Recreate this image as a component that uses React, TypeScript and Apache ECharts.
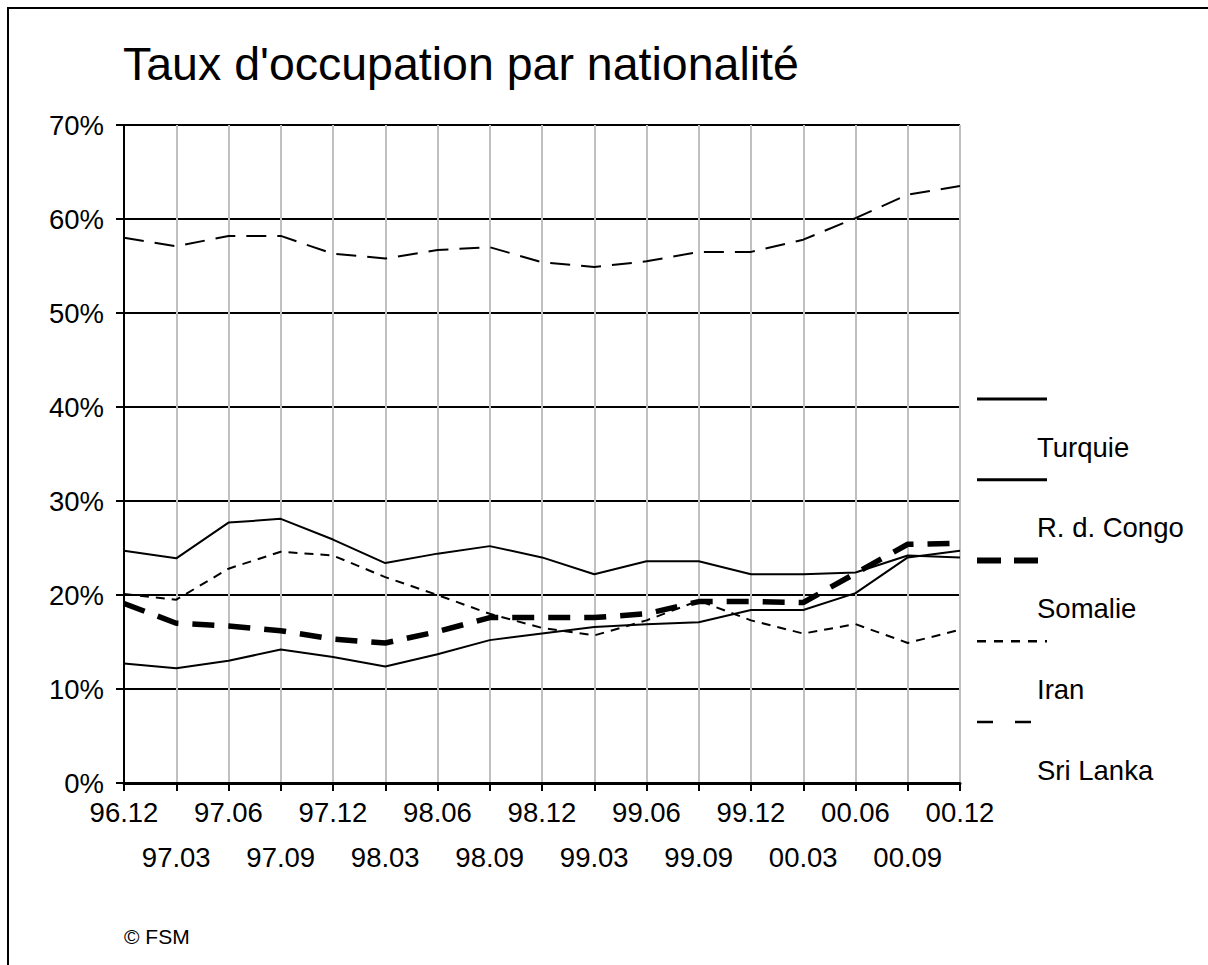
import React, { useEffect, useRef } from "react";
import * as echarts from "echarts";

const categories = ["96.12", "97.03", "97.06", "97.09", "97.12", "98.03", "98.06", "98.09", "98.12", "99.03", "99.06", "99.09", "99.12", "00.03", "00.06", "00.09", "00.12"];
const yTicks = [0, 10, 20, 30, 40, 50, 60, 70];
const turquie = [24.7, 23.9, 27.7, 28.1, 25.9, 23.4, 24.4, 25.2, 24.0, 22.2, 23.6, 23.6, 22.2, 22.2, 22.4, 24.2, 24.0];
const congo = [12.7, 12.2, 13.0, 14.2, 13.4, 12.4, 13.7, 15.2, 15.9, 16.6, 16.9, 17.1, 18.4, 18.4, 20.2, 24.0, 24.7];
const somalie = [19.1, 17.0, 16.7, 16.2, 15.3, 14.9, 16.1, 17.6, 17.6, 17.6, 18.0, 19.3, 19.3, 19.2, 22.3, 25.4, 25.5];
const iran = [20.1, 19.5, 22.8, 24.6, 24.2, 21.9, 20.0, 18.0, 16.5, 15.7, 17.3, 19.4, 17.3, 15.9, 16.9, 14.9, 16.3];
const sriLanka = [58.0, 57.1, 58.2, 58.2, 56.3, 55.8, 56.7, 57.0, 55.4, 54.9, 55.5, 56.5, 56.5, 57.8, 60.1, 62.6, 63.5];
const seriesNames = ["Turquie", "R. d. Congo", "Somalie", "Iran", "Sri Lanka"];
const seriesData = [turquie, congo, somalie, iran, sriLanka];

const FONT = "'Liberation Sans', Arial, sans-serif";

const lineStyles: any[] = [
  { width: 2, type: "solid" },
  { width: 2, type: "solid" },
  { width: 5.5, type: [22, 14] },
  { width: 2, type: [9, 7] },
  { width: 2, type: [20, 11] },
];
const legendStyles: any[] = [
  { lineWidth: 3, lineDash: null },
  { lineWidth: 3, lineDash: null },
  { lineWidth: 6, lineDash: [24, 13] },
  { lineWidth: 2.5, lineDash: [9, 8] },
  { lineWidth: 2.5, lineDash: [16, 22] },
];

export default function App() {
  const ref = useRef<HTMLDivElement>(null);
  useEffect(() => {
    document.body.style.margin = "0";
    document.body.style.overflow = "hidden";
    if (!ref.current) return;
    const chart = echarts.init(ref.current, null, { renderer: "svg" });
    const W = 1208;
    const H = 965;
    const legendGraphics: any[] = [];
    seriesNames.forEach((name, i) => {
      const sy = 399 + i * 80.75;
      const ty = 447 + i * 80.75;
      legendGraphics.push({
        type: "line",
        shape: { x1: 977, y1: sy, x2: 1047, y2: sy },
        style: {
          stroke: "#000",
          lineWidth: legendStyles[i].lineWidth,
          lineDash: legendStyles[i].lineDash || undefined,
        },
      });
      legendGraphics.push({
        type: "text",
        x: 1037,
        y: ty,
        style: {
          text: name,
          fontSize: 27.5,
          fontFamily: FONT,
          fill: "#000",
          align: "left",
          verticalAlign: "middle",
        },
      });
    });
    chart.setOption({
      animation: false,
      backgroundColor: "#fff",
      grid: { left: 124, right: 248, top: 125, bottom: 182, containLabel: false },
      xAxis: {
        type: "category",
        boundaryGap: false,
        data: categories,
        axisLine: { show: true, lineStyle: { color: "#000", width: 3 } },
        axisTick: { show: true, length: 8, interval: 0, lineStyle: { color: "#000", width: 2 } },
        axisLabel: {
          interval: 0,
          margin: 7,
          fontSize: 27.5,
          lineHeight: 45,
          color: "#000",
          fontFamily: FONT,
          formatter: (v: string, i: number) => (i % 2 ? "\n" + v : v),
        },
        splitLine: { show: true, interval: 0, lineStyle: { color: "#c0c0c0", width: 2 } },
      },
      yAxis: {
        type: "value",
        min: yTicks[0],
        max: yTicks[yTicks.length - 1],
        interval: 10,
        axisLine: { show: true, lineStyle: { color: "#000", width: 2 } },
        axisTick: { show: true, length: 8, lineStyle: { color: "#000", width: 2 } },
        axisLabel: {
          margin: 20,
          fontSize: 27.5,
          color: "#000",
          fontFamily: FONT,
          formatter: "{value}%",
        },
        splitLine: { show: true, lineStyle: { color: "#000", width: 2 } },
      },
      series: seriesData.map((d, i) => ({
        name: seriesNames[i],
        type: "line",
        data: d,
        symbol: "none",
        lineStyle: { color: "#000", width: lineStyles[i].width, type: lineStyles[i].type },
        z: i === 2 ? 3 : 4,
      })),
      graphic: [
        { type: "line", shape: { x1: 7, y1: 8, x2: W, y2: 8 }, style: { stroke: "#000", lineWidth: 2 } },
        { type: "line", shape: { x1: 8, y1: 7, x2: 8, y2: H }, style: { stroke: "#000", lineWidth: 2 } },
        {
          type: "text",
          x: 123,
          y: 64,
          style: {
            text: "Taux d'occupation par nationalité",
            fontSize: 46.5,
            fontFamily: FONT,
            fill: "#000",
            align: "left",
            verticalAlign: "middle",
          },
        },
        {
          type: "text",
          x: 124,
          y: 936,
          style: {
            text: "© FSM",
            fontSize: 21,
            fontFamily: FONT,
            fill: "#000",
            align: "left",
            verticalAlign: "middle",
          },
        },
        ...legendGraphics,
      ],
    });
    return () => chart.dispose();
  }, []);
  return <div ref={ref} style={{ width: 1208, height: 965 }} />;
}
